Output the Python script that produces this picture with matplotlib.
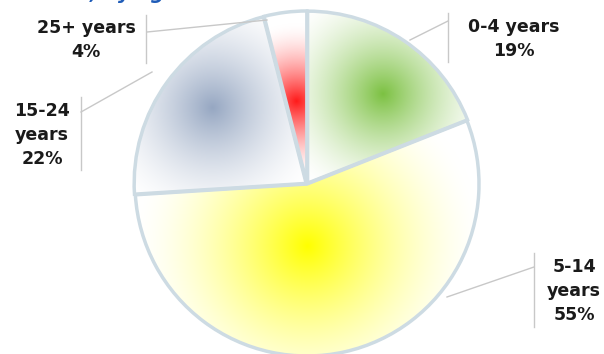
import numpy as np
import matplotlib.pyplot as plt
from matplotlib.colors import to_rgb

# data
labels = ['0-4 years', '5-14\nyears', '15-24\nyears', '25+ years']
shares = [19, 55, 22, 4]
colors = ['#7cc142', '#ffff00', '#96a7c2', '#ff1a1a']

# figure in pixel units (604 x 354)
W, H = 604, 354
fig = plt.figure(figsize=(W / 100, H / 100), dpi=100)
ax = fig.add_axes([0, 0, 1, 1])

cx, cy, R = 307, H - 184, 172
wedges, _ = ax.pie(shares, startangle=90, counterclock=False, radius=R,
                   center=(cx, cy), frame=True,
                   explode=[0.006 * R, 0, 0.006 * R, 0.006 * R],
                   wedgeprops=dict(facecolor='none', edgecolor='#cddbe3',
                                   linewidth=2.5, zorder=3))
ax.set_xlim(0, W)
ax.set_ylim(0, H)
ax.set_aspect('equal')
ax.axis('off')

# radial gradient fill inside each slice
gx, gy = np.meshgrid(np.arange(W) + 0.5, np.arange(H) + 0.5)
frac = [0.68, 0.36, 0.7, 0.48]     # where the colour peaks along the slice
shift = [-6, -12, -3, 0]           # small angular nudge of the peak (deg)
fade = [115, 175, 120, 78]         # how far it fades to white
for w, col, f, s, fd in zip(wedges, colors, frac, shift, fade):
    mid = np.deg2rad((w.theta1 + w.theta2) / 2 + s)
    px = w.center[0] + f * R * np.cos(mid)
    py = w.center[1] + f * R * np.sin(mid)
    d = np.hypot(gx - px, gy - py)
    t = np.clip(1 - d / fd, 0, 1) ** 1.6
    rgb = np.array(to_rgb(col))
    img = np.ones((H, W, 3)) * (1 - t[..., None]) + rgb * t[..., None]
    im = ax.imshow(img, extent=[0, W, 0, H], origin='lower', zorder=1)
    im.set_clip_path(w)

# labels with leader lines (pixel coords, y from top)
txt = dict(fontsize=12.5, fontweight='bold', color='#1a1a1a',
           ha='center', va='center', linespacing=1.4, family='DejaVu Sans')
lc = dict(color='#c8c8c8', lw=1, zorder=4)

def P(y):
    return H - y

ax.text(514, P(39), f'{labels[0]}\n{shares[0]}%', **txt)
ax.plot([410, 448], [P(40), P(21)], **lc)
ax.plot([448, 448], [P(13), P(62)], **lc)

ax.text(86, P(40), f'{labels[3]}\n{shares[3]}%', **txt)
ax.plot([147, 267], [P(32), P(20)], **lc)
ax.plot([146, 146], [P(15), P(63)], **lc)

ax.text(42, P(135), f'{labels[2]}\n{shares[2]}%', **txt)
ax.plot([81, 152], [P(112), P(72)], **lc)
ax.plot([81, 81], [P(97), P(170)], **lc)

ax.text(574, P(291), f'{labels[1]}\n{shares[1]}%', **txt)
ax.plot([447, 534], [P(297), P(267)], **lc)
ax.plot([534, 534], [P(253), P(327)], **lc)

# title mostly cut off at the top edge, as in the source image
ax.text(178, P(-1), 'Cases, by age', fontsize=14, fontweight='bold',
        fontstyle='italic', color='#1f5cb8', ha='right', va='baseline')

fig.savefig('out.png', dpi=100)
